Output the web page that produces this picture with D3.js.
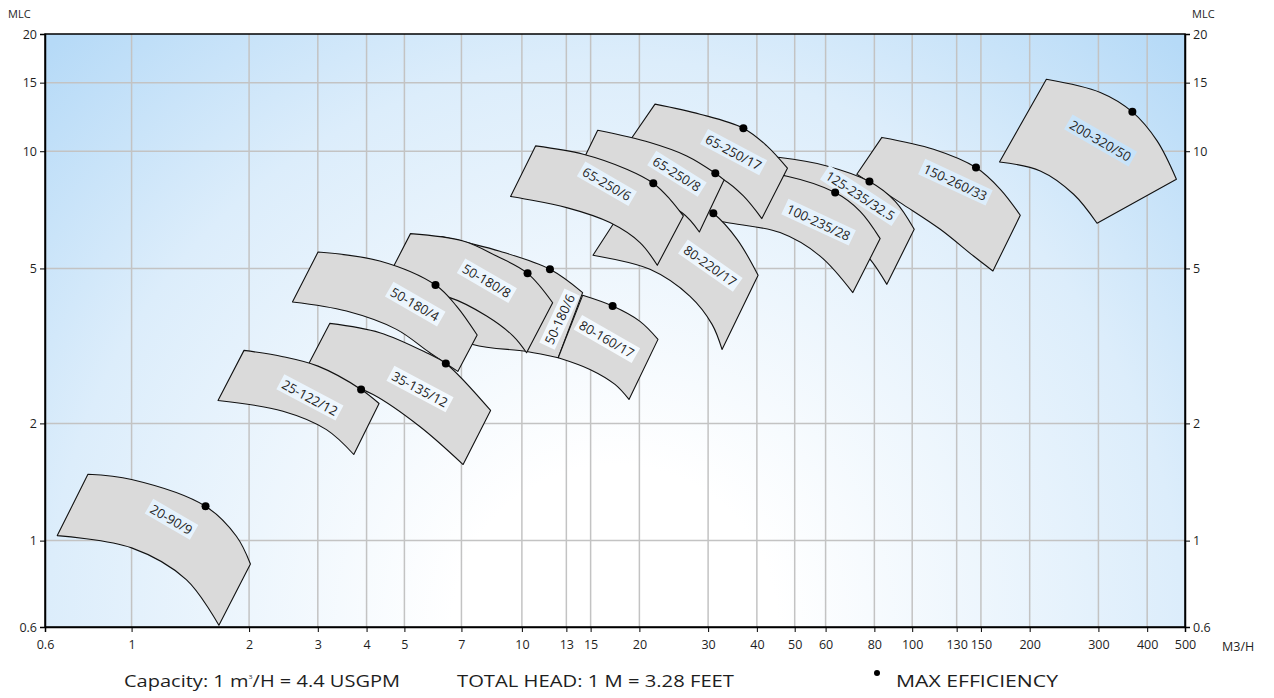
<!DOCTYPE html>
<html>
<head>
<meta charset="utf-8">
<script src="https://cdn.jsdelivr.net/npm/d3@7"></script>
<style>
  body { margin: 0; background: #fff; }
  svg text { font-family: "Open Sans", sans-serif; fill: #1e1e1e; }
</style>
</head>
<body>
<script>
'use strict';

// axis ticks
var xTicks = [0.6, 1, 2, 3, 4, 5, 7, 10, 13, 15, 20, 30, 40, 50, 60, 80, 100, 130, 150, 200, 300, 400, 500];
var yTicks = [0.6, 1, 2, 5, 10, 15, 20];

// pump ranges, in drawing order (bottom first). values are [m3/h, m]
var pumpNames = ['20-90/9', '50-180/6', '80-160/17', '50-180/8', '50-180/4', '35-135/12', '25-122/12',
                 '150-260/33', '125-235/32.5', '100-235/28', '65-250/17', '80-220/17', '65-250/8', '65-250/6', '200-320/50'];

var topCurves = [
  [[0.773, 1.48], [1.0, 1.435], [1.547, 1.225], [1.856, 1.026], [2.016, 0.871]],
  [[6.224, 6.035], [8.783, 5.534], [11.8, 4.974], [14.31, 4.334]],
  [[14.31, 4.265], [17.08, 4.002], [20.07, 3.656], [22.32, 3.287]],
  [[5.183, 6.143], [7.07, 5.88], [8.613, 5.38], [10.34, 4.858], [11.99, 4.083]],
  [[3.004, 5.51], [4.324, 5.224], [6.007, 4.532], [6.8, 4.002], [7.68, 3.372]],
  [[3.219, 3.613], [4.324, 3.42], [5.695, 3.037], [6.384, 2.851], [8.314, 2.159]],
  [[1.941, 3.08], [2.443, 2.967], [3.004, 2.806], [3.873, 2.445], [4.306, 2.25]],
  [[83.63, 10.85], [113.4, 10.12], [145.7, 9.081], [168.2, 7.985], [189.2, 6.848]],
  [[39.58, 9.708], [45.87, 9.634], [60.43, 9.167], [77.71, 8.358], [90.46, 7.437], [101.2, 6.303]],
  [[33.16, 8.989], [47.81, 8.626], [63.48, 7.831], [73.56, 7.011], [82.78, 5.965]],
  [[21.93, 13.21], [28.61, 12.45], [36.94, 11.46], [42.42, 10.32], [47.9, 9.044]],
  [[20.19, 8.374], [26.97, 7.527], [30.94, 6.928], [35.6, 5.94], [40.29, 4.8]],
  [[15.64, 11.32], [21.29, 10.53], [26.45, 9.726], [31.3, 8.779], [32.96, 8.438]],
  [[10.84, 10.32], [14.36, 9.824], [18.56, 8.989], [21.71, 8.274], [23.96, 7.527], [25.92, 6.82]],
  [[220.7, 15.31], [303.4, 14.16], [366.5, 12.62], [424.1, 10.63], [475.3, 8.472]]
];

var bottomCurves = [
  [[0.645, 1.03], [1.0, 0.958], [1.381, 0.794], [1.674, 0.606]],
  [[5.64, 3.656], [7.488, 3.19], [10.3, 3.061], [12.39, 2.949]],
  [[12.39, 2.949], [14.94, 2.752], [17.32, 2.518], [18.81, 2.304]],
  [[4.401, 4.471], [6.537, 4.207], [8.121, 3.773], [9.5, 3.351], [10.28, 3.037]],
  [[2.583, 4.1], [3.553, 3.886], [4.772, 3.487], [5.808, 3.037], [6.852, 2.72]],
  [[2.777, 2.72], [3.415, 2.563], [4.156, 2.373], [5.475, 1.964], [7.07, 1.568]],
  [[1.665, 2.29], [2.443, 2.15], [3.157, 1.928], [3.709, 1.664]],
  [[72.14, 8.729], [93.16, 7.38], [118, 6.303], [143.6, 5.38], [161, 4.924]],
  [[36.22, 7.527], [51.62, 6.887], [67.33, 6.118], [78.04, 5.277], [86.12, 4.551]],
  [[28.61, 6.766], [33.49, 6.558], [45.87, 6.18], [58.08, 5.38], [70.45, 4.334]],
  [[18.26, 10.12], [25.42, 9.37], [32.96, 8.438], [36.94, 7.675], [41.19, 6.714]],
  [[15.21, 5.404], [21.29, 4.974], [26.97, 4.239], [30.71, 3.592], [32.57, 3.097]],
  [[13.51, 8.374], [20.07, 7.753], [25.68, 6.958], [28.49, 6.203]],
  [[9.355, 7.648], [13.02, 7.165], [16.81, 6.558], [20.07, 5.826], [22.23, 5.093]],
  [[167.4, 9.386], [212.9, 8.9], [259.2, 7.753], [297.6, 6.53]]
];

// max efficiency points
var effPoints = [
  [1.547, 1.225], [11.8, 4.974], [17.08, 4.002], [10.34, 4.858], [6.007, 4.532], [6.384, 2.851], [3.873, 2.445],
  [145.7, 9.081], [77.71, 8.358], [63.48, 7.831], [36.94, 11.46], [30.94, 6.928], [31.3, 8.779], [21.71, 8.274], [366.5, 12.62]
];

// where each name sits, and its slant
var labelPoints = [
  [1.264, 1.132], [12.52, 3.7], [16.49, 3.287], [8.121, 4.641], [5.316, 4.044], [5.475, 2.445], [2.86, 2.327],
  [128.9, 8.307], [73.56, 7.675], [57.5, 6.558], [34.83, 9.924], [30.35, 5.072], [24.93, 8.729], [16.49, 8.226], [303.4, 10.63]
];
var labelAngles = [30, -65, 30, 30, 30, 28, 28, 25, 33, 25, 28, 35, 32, 30, 30];

var footNotes = ['TOTAL HEAD: 1 M = 3.28 FEET', 'MAX EFFICIENCY'];

var width = 1274, height = 698;
var plotL = 45, plotR = 1185, plotT = 34, plotB = 627;

var x = d3.scaleLog().domain([0.6, 500]).range([plotL, plotR]);
var y = d3.scaleLog().domain([0.6, 20]).range([plotB, plotT]);

var svg = d3.select('body').append('svg')
    .attr('width', width)
    .attr('height', height);

var defs = svg.append('defs');
var grad = defs.append('radialGradient')
    .attr('id', 'bg')
    .attr('gradientUnits', 'userSpaceOnUse')
    .attr('cx', 615).attr('cy', 627).attr('r', 810);
grad.append('stop').attr('offset', 0).attr('stop-color', '#ffffff');
grad.append('stop').attr('offset', 0.2).attr('stop-color', '#ffffff');
grad.append('stop').attr('offset', 0.7).attr('stop-color', '#dcedfb');
grad.append('stop').attr('offset', 1).attr('stop-color', '#b6daf7');

svg.append('rect')
    .attr('x', plotL).attr('y', plotT)
    .attr('width', plotR - plotL).attr('height', plotB - plotT)
    .attr('fill', 'url(#bg)');

// grid
svg.append('g').selectAll('line')
    .data(xTicks.slice(1, -1))
  .enter().append('line')
    .attr('x1', function(d) { return x(d); })
    .attr('x2', function(d) { return x(d); })
    .attr('y1', plotT).attr('y2', plotB)
    .attr('stroke', '#c3c3c3').attr('stroke-width', 1.5);
svg.append('g').selectAll('line')
    .data(yTicks.slice(1, -1))
  .enter().append('line')
    .attr('y1', function(d) { return y(d); })
    .attr('y2', function(d) { return y(d); })
    .attr('x1', plotL).attr('x2', plotR)
    .attr('stroke', '#c3c3c3').attr('stroke-width', 1.5);

// pump shapes
var curve = d3.line()
    .x(function(d) { return x(d[0]); })
    .y(function(d) { return y(d[1]); })
    .curve(d3.curveCatmullRom.alpha(0.5));

var shapes = svg.append('g');
pumpNames.forEach(function(name, i) {
  var p = curve(topCurves[i]) + curve(bottomCurves[i].slice().reverse()).replace(/^M/, 'L') + 'Z';
  shapes.append('path')
      .attr('d', p)
      .attr('fill', '#dadada')
      .attr('stroke', '#111')
      .attr('stroke-width', 1.1)
      .attr('stroke-linejoin', 'round');
});

// labels with a background-coloured box behind them
var clip = defs.append('clipPath').attr('id', 'labelClip');
svg.append('rect')
    .attr('x', plotL).attr('y', plotT)
    .attr('width', plotR - plotL).attr('height', plotB - plotT)
    .attr('fill', 'url(#bg)')
    .attr('clip-path', 'url(#labelClip)');
var labels = svg.append('g');
pumpNames.forEach(function(name, i) {
  var tr = 'translate(' + x(labelPoints[i][0]) + ',' + y(labelPoints[i][1]) + ') rotate(' + labelAngles[i] + ')';
  var t = labels.append('text')
      .attr('transform', tr)
      .attr('text-anchor', 'middle')
      .attr('dy', '0.35em')
      .style('font-size', '13px')
      .text(name);
  var b = t.node().getBBox();
  clip.append('rect')
      .attr('transform', tr)
      .attr('x', b.x - 3).attr('y', b.y + 0.5)
      .attr('width', b.width + 6).attr('height', b.height - 1);
});

// max efficiency dots
svg.append('g').selectAll('circle')
    .data(effPoints)
  .enter().append('circle')
    .attr('cx', function(d) { return x(d[0]); })
    .attr('cy', function(d) { return y(d[1]); })
    .attr('r', 4)
    .attr('fill', '#000');

// frame
svg.append('rect')
    .attr('x', plotL).attr('y', plotT)
    .attr('width', plotR - plotL).attr('height', plotB - plotT)
    .attr('fill', 'none')
    .attr('stroke', '#000')
    .attr('stroke-width', 1.5);

// axes
var fmt = d3.format('~g');
var axL = svg.append('g')
    .attr('transform', 'translate(' + plotL + ',0)')
    .call(d3.axisLeft(y).tickValues(yTicks).tickFormat(fmt).tickSize(5).tickPadding(3));
var axR = svg.append('g')
    .attr('transform', 'translate(' + plotR + ',0)')
    .call(d3.axisRight(y).tickValues(yTicks).tickFormat(fmt).tickSize(5).tickPadding(3));
var axB = svg.append('g')
    .attr('transform', 'translate(0,' + plotB + ')')
    .call(d3.axisBottom(x).tickValues(xTicks).tickFormat(fmt).tickSize(5).tickPadding(8));
[axL, axR, axB].forEach(function(a) {
  a.select('.domain').attr('stroke', '#000').attr('stroke-width', 1.5);
  a.selectAll('.tick line').attr('stroke', '#000');
  a.selectAll('.tick text')
      .attr('fill', '#1e1e1e')
      .style('font-size', '12.5px')
      .style('font-family', '"Open Sans", sans-serif');
});

svg.append('text').attr('x', 8).attr('y', 18).style('font-size', '11px').text('MLC');
svg.append('text').attr('x', 1192).attr('y', 18).style('font-size', '11px').text('MLC');
svg.append('text').attr('x', 1222).attr('y', 651).style('font-size', '12.5px').text('M3/H');

// footer notes
var foot = svg.append('g').style('font-size', '17px');
var cap = foot.append('text').attr('x', 124).attr('y', 687)
    .attr('textLength', 276).attr('lengthAdjust', 'spacingAndGlyphs');
cap.append('tspan').text('Capacity: 1 m');
cap.append('tspan').attr('dy', -8).style('font-size', '6px').text('3');
cap.append('tspan').attr('dy', 8).text('/H = 4.4 USGPM');
foot.append('text').attr('x', 457).attr('y', 687)
    .attr('textLength', 277).attr('lengthAdjust', 'spacingAndGlyphs')
    .text(footNotes[0]);
foot.append('circle').attr('cx', 877).attr('cy', 673).attr('r', 3).attr('fill', '#000');
foot.append('text').attr('x', 896).attr('y', 687)
    .attr('textLength', 162).attr('lengthAdjust', 'spacingAndGlyphs')
    .text(footNotes[1]);
</script>
</body>
</html>
